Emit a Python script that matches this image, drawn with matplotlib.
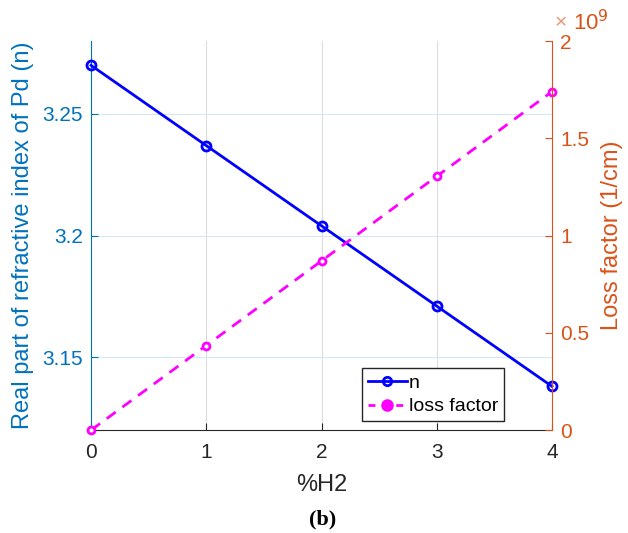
import matplotlib.pyplot as plt
from matplotlib.lines import Line2D

h2_pct = [0, 1, 2, 3, 4]
n_real = [3.270, 3.237, 3.204, 3.171, 3.138]
loss_factor = [0.0, 0.435e9, 0.870e9, 1.305e9, 1.740e9]
loss_ticks = [0, 0.5e9, 1e9, 1.5e9, 2e9]
loss_tick_labels = ["0", "0.5", "1", "1.5", "2"]

LEFT_C = "#0072BD"
RIGHT_C = "#D95319"
AX_C = "#262626"

plt.rcParams["font.family"] = ["Liberation Sans", "DejaVu Sans"]
plt.rcParams["font.size"] = 15

fig = plt.figure(figsize=(6.28, 5.33), dpi=100)
ax = fig.add_axes([0.145, 0.193, 0.734, 0.730])
ax2 = ax.twinx()

ax.plot(h2_pct, n_real, color="blue", lw=2, marker="o", ms=6.5, mfc="none", mew=2,
        zorder=3, clip_on=False)
ax2.plot(h2_pct, loss_factor, color="magenta", lw=2, ls=(0, (4, 3)), marker="o", ms=5,
         mfc="white", mew=2, clip_on=False)

ax.set_xlim(0, 4)
ax.set_ylim(3.12, 3.28)
ax.set_xticks([0, 1, 2, 3, 4])
ax.set_yticks([3.15, 3.2, 3.25])
ax.set_yticklabels(["3.15", "3.2", "3.25"])
ax2.set_ylim(0, 2e9)
ax2.set_yticks(loss_ticks)
ax2.set_yticklabels(loss_tick_labels)

ax.grid(axis="x", color="#dcdcdc", lw=0.8)
ax.grid(axis="y", color="#d5e6f4", lw=0.8)
ax.set_axisbelow(True)

for a in (ax, ax2):
    a.spines["top"].set_visible(False)
ax2.spines["left"].set_visible(False)
ax2.spines["bottom"].set_visible(False)
ax.spines["right"].set_visible(False)
ax.spines["left"].set_color(LEFT_C)
ax.spines["bottom"].set_color(AX_C)
ax2.spines["right"].set_color(RIGHT_C)

ax.tick_params(axis="x", direction="in", colors=AX_C, length=5, pad=9)
ax.tick_params(axis="y", direction="in", colors=LEFT_C, length=5, pad=6)
ax2.tick_params(axis="y", direction="in", colors=RIGHT_C, length=5, pad=6)

ax.set_xlabel("%H2", color=AX_C, fontsize=17, labelpad=9)
ax.set_ylabel("Real part of refractive index of Pd (n)", color=LEFT_C, fontsize=17, labelpad=6)
ax2.set_ylabel("Loss factor (1/cm)", color=RIGHT_C, fontsize=17, labelpad=8)

# exponent label above the right axis
ax2.text(1.005, 1.047, "×", transform=ax2.transAxes, color=RIGHT_C, alpha=0.6,
         fontsize=15, ha="left", va="center")
ax2.text(1.045, 1.047, r"10$^{9}$", transform=ax2.transAxes, color=RIGHT_C,
         fontsize=16, ha="left", va="center")

handles = [
    Line2D([], [], color="blue", lw=2, marker="o", ms=6, mfc="none", mew=2),
    Line2D([], [], color="magenta", lw=2, ls=(0, (2.5, 2.5)), marker="o", ms=7,
           mfc="magenta", mew=2),
]
ax2.legend(handles, ["n", "loss factor"], loc="lower right", bbox_to_anchor=(0.896, 0.023),
           borderaxespad=0, frameon=True, fancybox=False, edgecolor="#262626", framealpha=1,
           handlelength=2.0, handletextpad=0.1, borderpad=0.3, labelspacing=0.3,
           fontsize=14)

fig.text(0.513, 0.025, "(b)", ha="center", va="center", fontweight="bold",
         family="Liberation Serif", fontsize=16)

fig.savefig("out.png", dpi=100)
